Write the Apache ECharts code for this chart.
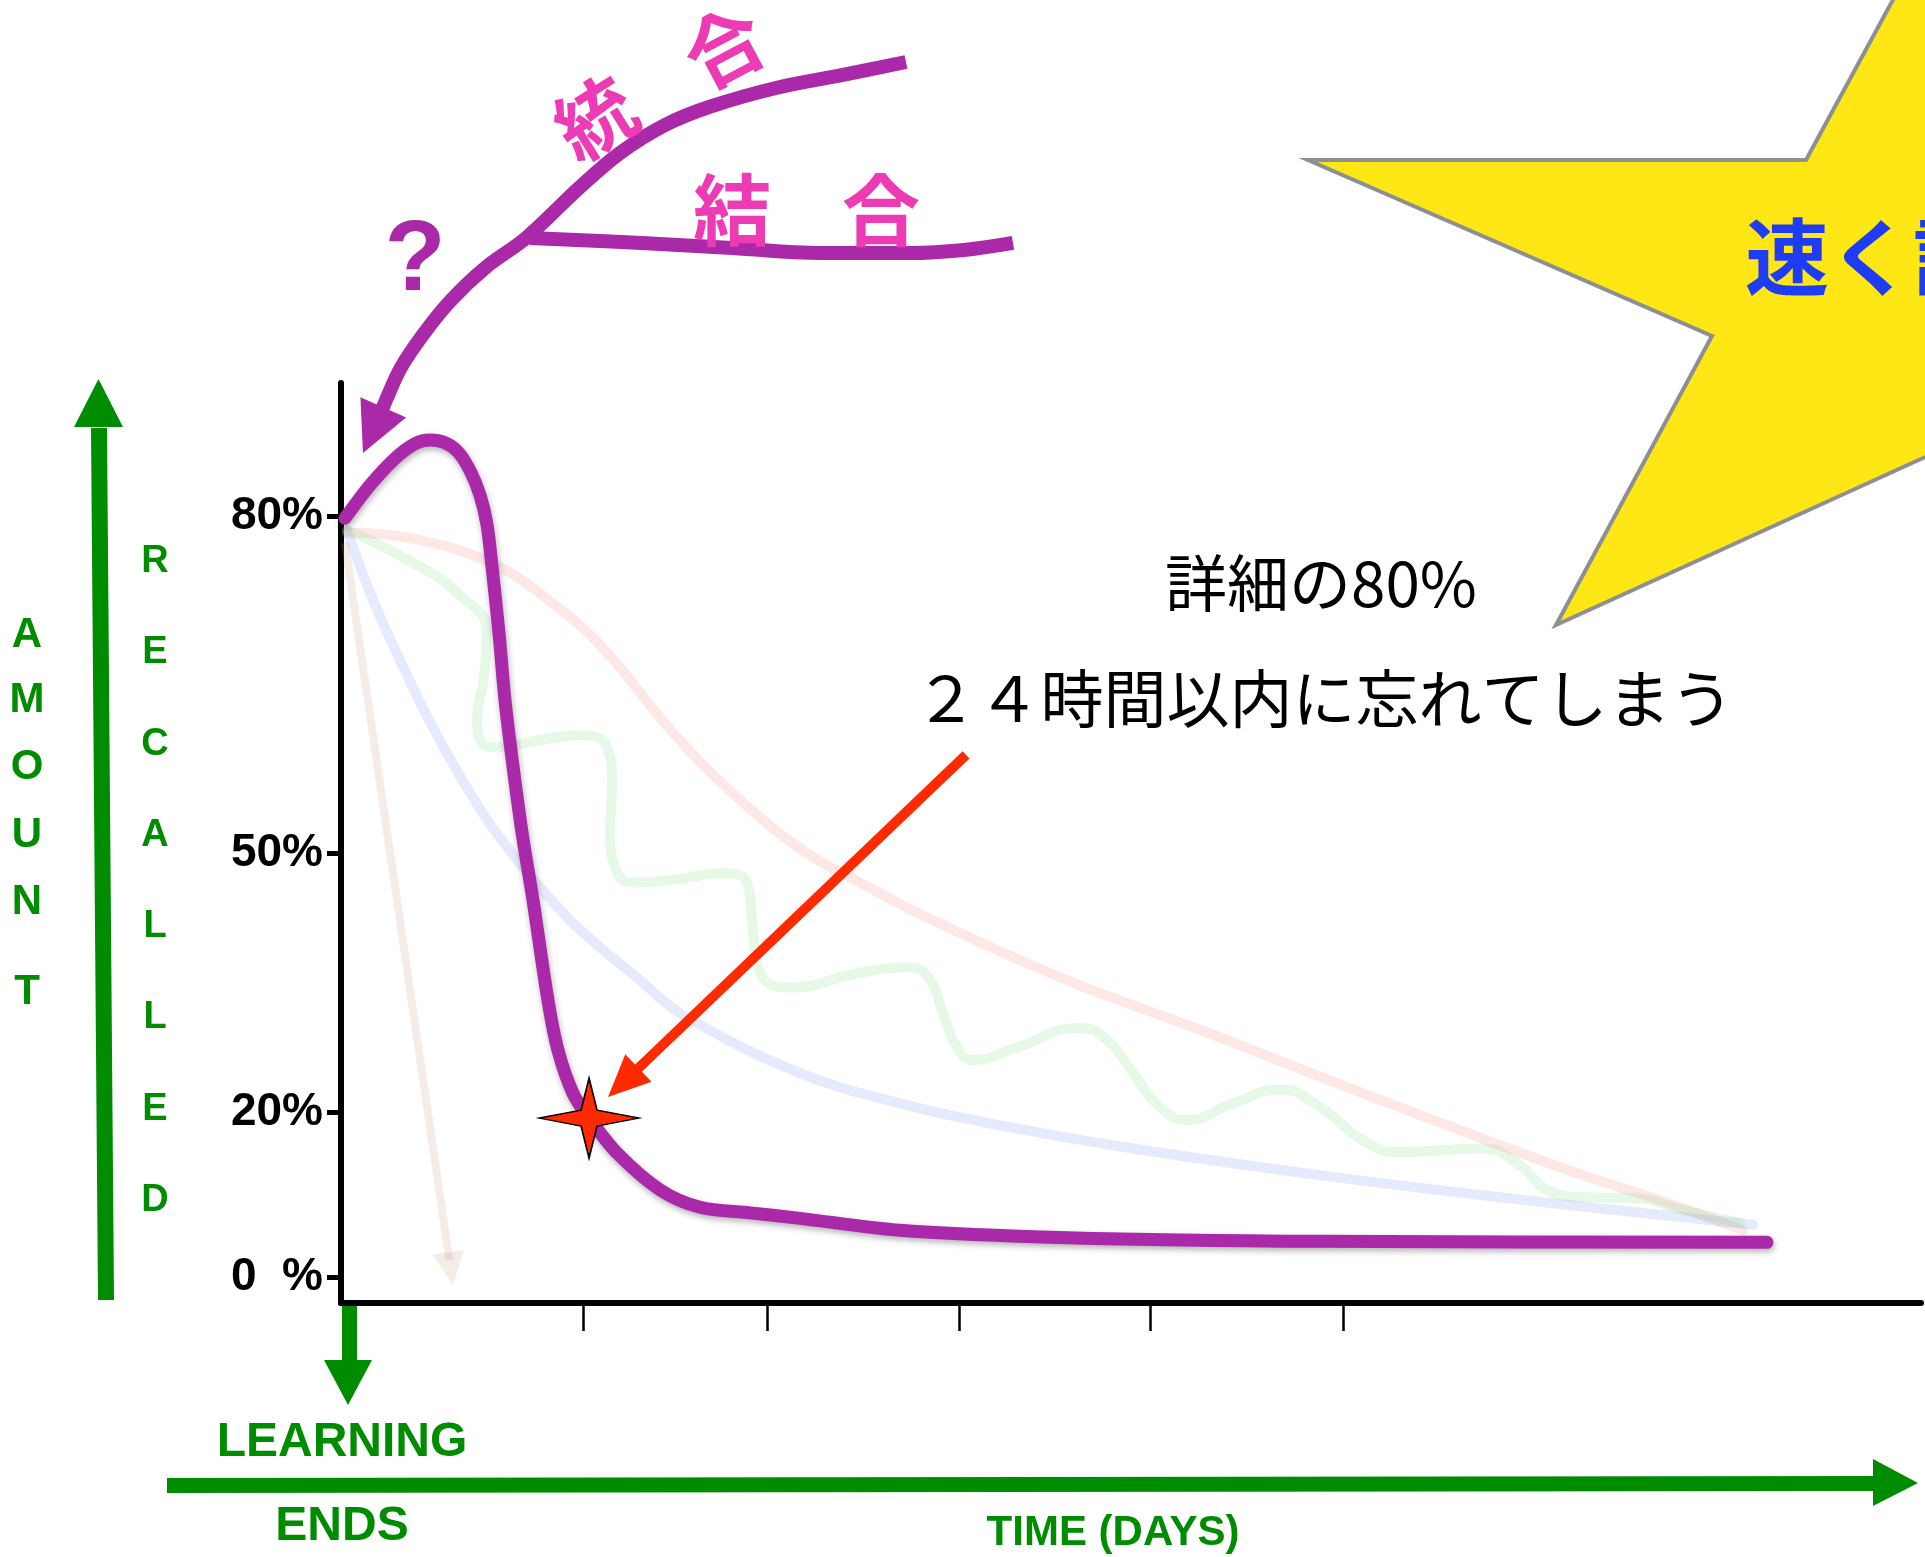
<!DOCTYPE html>
<html>
<head>
<meta charset="utf-8">
<script src="https://cdn.jsdelivr.net/npm/echarts@6.0.0/dist/echarts.min.js"></script>
<style>
html,body{margin:0;padding:0;background:#ffffff;}
#chart{width:1925px;height:1557px;}
</style>
</head>
<body>
<div id="chart"></div>
<script>
// ---------- data (chart units: x 0..100 along the time axis, y 0..100 up the recall axis) ----------
const xTickValues = [15.32, 26.96, 39.11, 51.20, 63.42];
const yTickValues = [2.83, 20.76, 48.91, 85.54];
const yTickLabels = ['0  %', '20%', '50%', '80%'];

// main forgetting curve (purple)
const purpleCurve = [[0.25,85.3],[1.84,88.9],[3.42,91.8],[4.68,93.4],[5.63,93.8],[6.58,93.5],[7.41,92.5],
  [8.16,90.5],[8.80,87.8],[9.24,84.6],[9.56,80.0],[10.0,72.8],[10.38,65.5],[10.89,58.3],[11.46,51.1],
  [12.15,43.8],[13.1,32.9],[13.73,27.5],[14.68,22.8],[15.70,20.1],[17.47,16.3],[20.19,12.3],[22.72,10.4],
  [25.89,9.8],[29.05,9.2],[35.38,7.9],[45.95,7.1],[61.96,6.7],[90.25,6.6]];

// faint background curves
const pinkCurve = [[0.38,83.7],[4.18,83.2],[9.43,80.5],[13.67,75.7],[16.84,70.7],[21.01,62.0],[25.25,54.7],
  [29.49,48.9],[32.85,45.7],[37.47,41.6],[45.95,35.1],[54.37,29.7],[61.96,24.6],[69.11,19.9],[77.59,14.5],
  [83.92,10.9],[88.73,7.9]];
const blueCurve = [[0.38,84.0],[2.03,76.4],[3.73,69.9],[5.63,63.15],[7.53,57.3],[9.43,52.07],[11.52,47.4],
  [14.68,41.3],[18.92,35.1],[21.65,31.3],[29.05,25.0],[35.38,21.7],[41.71,19.3],[50.13,16.8],[61.96,13.9],
  [73.35,11.5],[89.37,8.5]];
const greenCurve = [[0.38,84.0],[4.18,80.8],[7.34,77.2],[9.24,72.8],[8.99,67.4],[8.61,63.7],[8.80,61.2],
  [10.06,60.4],[12.59,61.2],[15.32,61.7],[16.84,60.4],[17.15,56.5],[17.03,51.1],[17.34,47.4],[18.48,45.7],
  [21.01,46.0],[24.18,46.7],[25.70,45.7],[26.08,40.2],[26.52,35.9],[28.42,34.3],[32.85,35.9],[36.01,36.5],
  [37.28,35.1],[38.10,31.5],[38.99,27.8],[40.0,26.4],[42.78,27.8],[46.77,29.9],[48.48,28.6],[50.13,25.0],
  [51.84,21.3],[53.54,19.9],[56.46,21.7],[59.43,23.2],[61.96,21.3],[64.94,17.4],[67.03,16.4],[72.28,16.8],
  [74.43,15.2],[76.71,12.0],[78.61,11.5],[81.77,11.4],[84.94,10.1],[88.54,8.7]];
const beigeShaft = [[0.25,82.61],[6.86,4.67]];
const beigeHead = [[0.25,82.61,7.09,1.96]];          // [tailX, tailY, tipX, tipY]

// annotation arrow (red) and marker
const redShaft = [[39.56,59.57],[18.04,24.24]];
const redHead = [[39.56,59.57,16.90,22.39]];
const starMarker = [[15.70,20.1]];

// purple strokes above the plot: 統合 branch + arrow shaft, 結合 branch
const consolidationCurve = [[35.76,134.89],[31.77,133.48],[27.53,132.07],[23.29,130.0],[20.51,128.04],
  [17.66,125.0],[15.13,121.3],[11.71,115.76],[9.18,112.6],[6.96,109.0],[5.25,105.4],[3.80,101.7],[2.85,98.15],[2.47,96.5]];
const bondingCurve = [[11.96,115.76],[19.05,115.22],[24.75,114.67],[30.38,114.13],[36.01,114.13],[39.43,114.46],[42.53,115.22]];
const purpleHead = [[3.80,101.7,1.39,92.39]];

// ---------- styles ----------
const PURPLE = '#a929a9';
const PINK = '#ec3bb4';
const GREEN = '#008c00';
const RED = '#ff2a00';

function arrowHead(len, wid, color) {
  return function (params, api) {
    const a = api.coord([api.value(0), api.value(1)]);
    const b = api.coord([api.value(2), api.value(3)]);
    const dx = b[0] - a[0], dy = b[1] - a[1];
    const L = Math.sqrt(dx * dx + dy * dy);
    const ux = dx / L, uy = dy / L;
    const bx = b[0] - ux * len, by = b[1] - uy * len;
    return {
      type: 'polygon',
      shape: { points: [[b[0], b[1]], [bx - uy * wid / 2, by + ux * wid / 2], [bx + uy * wid / 2, by - ux * wid / 2]] },
      style: { fill: color }
    };
  };
}

function faint(name, data, color, smooth) {
  return {
    name: name, type: 'line', data: data, smooth: smooth, symbol: 'none', z: 2,
    lineStyle: { color: color, width: 10, cap: 'round' }, silent: true
  };
}

const latin = '"Liberation Sans", Arial, Helvetica, sans-serif';
const jp = '"Noto Sans CJK JP", sans-serif';

function txt(text, x, y, font, fill, rot, align) {
  const a = align || 'center';
  return {
    type: 'text', x: x, y: y, rotation: (rot || 0) * Math.PI / 180, z: 10,
    style: { text: text, font: font, fill: fill, align: a, verticalAlign: 'middle',
             textAlign: a, textVerticalAlign: 'middle' }
  };
}

const amountLetters = ['A','M','O','U','N','T'];
const amountY = [635, 700, 767, 835, 902, 992];
const recalledLetters = ['R','E','C','A','L','L','E','D'];
const recalledY = [562, 653, 745, 836, 927, 1018, 1110, 1201];

const graphics = [];
// yellow star (cut by the page edge)
graphics.push({
  type: 'polygon', z: 0,
  shape: { points: [[1308,160],[1806,160],[1965,-133],[2300,-133],[2300,400],[2000,423],[1556,625],[1712,336]] },
  style: { fill: '#fee714', stroke: '#8c8f93', lineWidth: 4, lineJoin: 'miter' }
});
graphics.push(txt('速く記憶', 1745, 257, 'bold 84px ' + jp, '#1f3cf5', 0, 'left'));

// green axis arrows
graphics.push({ type: 'polygon', shape: { points: [[91,428],[107,428],[114,1300],[98,1300]] }, style: { fill: GREEN } });
graphics.push({ type: 'polygon', shape: { points: [[74,427],[123,427],[98.5,379]] }, style: { fill: GREEN } });
graphics.push({ type: 'polygon', shape: { points: [[342,1306],[357,1306],[357,1362],[342,1362]] }, style: { fill: GREEN } });
graphics.push({ type: 'polygon', shape: { points: [[324,1360],[372,1360],[348,1405]] }, style: { fill: GREEN } });
graphics.push({ type: 'polygon', shape: { points: [[167,1478],[1876,1476],[1876,1491],[167,1493]] }, style: { fill: GREEN } });
graphics.push({ type: 'polygon', shape: { points: [[1873,1459],[1873,1506],[1918,1483]] }, style: { fill: GREEN } });

amountLetters.forEach(function (c, i) { graphics.push(txt(c, 27, amountY[i], 'bold 42px ' + latin, GREEN)); });
recalledLetters.forEach(function (c, i) { graphics.push(txt(c, 155, recalledY[i], 'bold 38px ' + latin, GREEN)); });
graphics.push(txt('LEARNING', 342, 1443, 'bold 48px ' + latin, GREEN));
graphics.push(txt('ENDS', 342, 1527, 'bold 48px ' + latin, GREEN));
graphics.push(txt('TIME (DAYS)', 1113, 1533, 'bold 42px ' + latin, GREEN));

// pink / purple labels at the top
graphics.push(txt('?', 415, 262, 'bold 100px ' + latin, PURPLE));
graphics.push(txt('統', 595, 118, 'bold 78px ' + jp, PINK, 32));
graphics.push(txt('合', 724, 47, 'bold 78px ' + jp, PINK, 28));
graphics.push(txt('結', 732, 210, 'bold 78px ' + jp, PINK));
graphics.push(txt('合', 881, 210, 'bold 78px ' + jp, PINK));

// annotation text
graphics.push(txt('詳細の80%', 1321, 583, '62px ' + jp, '#000000'));
graphics.push(txt('２４時間以内に忘れてしまう', 1324, 698, '63px ' + jp, '#000000'));

const option = {
  animation: false,
  backgroundColor: '#ffffff',
  grid: { left: 341, right: 4, top: 383, bottom: 254, containLabel: false, outerBoundsMode: 'none' },
  xAxis: {
    type: 'value', min: 0, max: 100,
    axisLine: { show: true, lineStyle: { color: '#000', width: 6 } },
    axisTick: { show: true, customValues: xTickValues, length: 28, lineStyle: { color: '#000', width: 2.5 } },
    axisLabel: { show: false },
    splitLine: { show: false }
  },
  yAxis: {
    type: 'value', min: 0, max: 100,
    axisLine: { show: true, lineStyle: { color: '#000', width: 6 } },
    axisTick: { show: true, customValues: yTickValues, length: 14, lineStyle: { color: '#000', width: 5 } },
    axisLabel: {
      show: true, customValues: yTickValues, margin: 18,
      color: '#000', fontSize: 46, fontWeight: 'bold', fontFamily: latin,
      formatter: function (v) {
        const i = yTickValues.indexOf(v);
        return i >= 0 ? yTickLabels[i] : '';
      }
    },
    splitLine: { show: false }
  },
  graphic: { elements: graphics },
  series: [
    faint('pink', pinkCurve, 'rgba(245,140,130,0.2)', 0.4),
    faint('blue', blueCurve, 'rgba(130,150,245,0.2)', 0.4),
    faint('green', greenCurve, 'rgba(130,220,130,0.2)', 0.5),
    {
      name: 'beige', type: 'line', data: beigeShaft, symbol: 'none', z: 2, silent: true,
      lineStyle: { color: 'rgba(200,160,130,0.2)', width: 8 }
    },
    { name: 'beigeHead', type: 'custom', data: beigeHead, encode: { x: [0, 2], y: [1, 3] }, z: 2,
      renderItem: arrowHead(33, 32, 'rgba(200,160,130,0.2)'), silent: true },
    {
      name: 'forgetting', type: 'line', data: purpleCurve, smooth: 0.3, symbol: 'none', z: 4,
      lineStyle: { color: PURPLE, width: 13, cap: 'round', join: 'round',
                   shadowColor: 'rgba(0,0,0,0.3)', shadowBlur: 6, shadowOffsetY: 3, shadowOffsetX: 1 }
    },
    {
      name: 'consolidation', type: 'line', data: consolidationCurve, smooth: 0.35, symbol: 'none', clip: false, z: 4,
      lineStyle: { color: PURPLE, width: 14, cap: 'butt', join: 'round' }
    },
    {
      name: 'bonding', type: 'line', data: bondingCurve, smooth: 0.4, symbol: 'none', clip: false, z: 4,
      lineStyle: { color: PURPLE, width: 14, cap: 'butt' }
    },
    { name: 'purpleHead', type: 'custom', data: purpleHead, encode: { x: [0, 2], y: [1, 3] }, z: 4,
      renderItem: arrowHead(50, 50, PURPLE) },
    {
      name: 'redShaft', type: 'line', data: redShaft, symbol: 'none', z: 5,
      lineStyle: { color: RED, width: 10 }
    },
    { name: 'redHead', type: 'custom', data: redHead, encode: { x: [0, 2], y: [1, 3] }, z: 5,
      renderItem: arrowHead(42, 38, RED) },
    {
      name: 'marker', type: 'scatter', data: starMarker, z: 6,
      symbol: 'path://M50,0 L58,32 L100,40 L58,48 L50,80 L42,48 L0,40 L42,32 Z',
      symbolSize: [100, 80], symbolKeepAspect: false,
      itemStyle: { color: RED, borderColor: '#000', borderWidth: 1.5, opacity: 1 }
    }
  ]
};

const chart = echarts.init(document.getElementById('chart'), null, { renderer: 'canvas' });
chart.setOption(option);
</script>
</body>
</html>
